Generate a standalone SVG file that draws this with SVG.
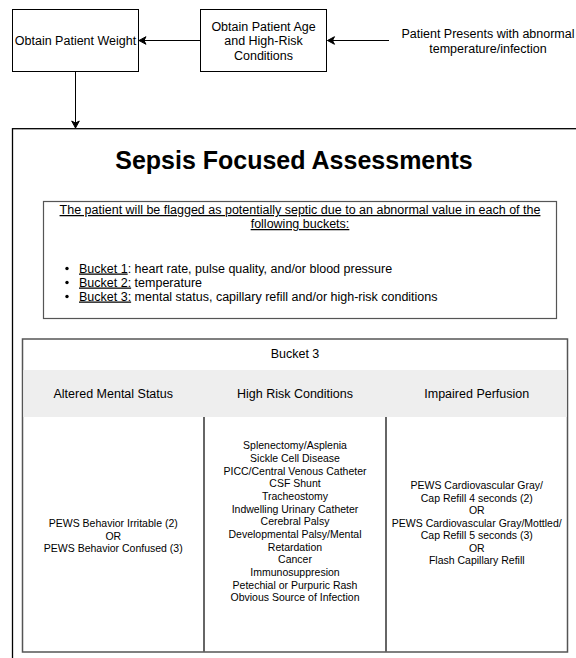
<svg xmlns="http://www.w3.org/2000/svg" width="576" height="658" viewBox="0 0 576 658">
<defs>
<style>
text{font-family:"Liberation Sans",Arial,sans-serif;fill:#000;}
.t12{font-size:12.5px;}
.t105{font-size:10.5px;}
.c{text-anchor:middle;}
.box{fill:#fff;stroke:#000;stroke-width:1;}
.conn{fill:none;stroke:#000;stroke-width:1;}
.u{text-decoration:underline;}
</style>
<marker id="arr" markerUnits="userSpaceOnUse" markerWidth="10" markerHeight="10" refX="8" refY="5" orient="auto">
<path d="M1,1.2 L8,5 L1,8.8 L3,5 Z" fill="#000" stroke="#000" stroke-width="1"/>
</marker>
</defs>
<rect width="576" height="658" fill="#fff"/>

<g id="connectors">
<line class="conn" x1="389" y1="40.5" x2="327.5" y2="40.5" marker-end="url(#arr)"/>
<line class="conn" x1="200.5" y1="40.5" x2="139" y2="40.5" marker-end="url(#arr)"/>
<line class="conn" x1="75.5" y1="72" x2="75.5" y2="128" marker-end="url(#arr)"/>
</g>

<g id="patient-presents">
<text class="t12 c" x="488" y="37.5">Patient Presents with abnormal</text>
<text class="t12 c" x="488" y="52.5">temperature/infection</text>
</g>

<g id="obtain-age">
<rect class="box" x="200.5" y="9.5" width="126" height="62"/>
<text class="t12 c" x="263.5" y="30.5">Obtain Patient Age</text>
<text class="t12 c" x="263.5" y="45">and High-Risk</text>
<text class="t12 c" x="263.5" y="59.5">Conditions</text>
</g>

<g id="obtain-weight">
<rect class="box" x="12.5" y="9.5" width="126" height="62"/>
<text class="t12 c" x="75.5" y="45">Obtain Patient Weight</text>
</g>

<g id="sepsis-assessments">
<rect x="12.5" y="128.7" width="580" height="560" fill="#fff" stroke="#000" stroke-width="1.3"/>
<text x="294" y="168.5" class="c" style="font-size:25px;font-weight:bold;">Sepsis Focused Assessments</text>

<g id="criteria">
<rect x="43.5" y="201.5" width="513" height="117" fill="#fff" stroke="#555" stroke-width="1.2"/>
<text class="t12 c u" x="300" y="214">The patient will be flagged as potentially septic due to an abnormal value in each of the</text>
<text class="t12 c u" x="300" y="228">following buckets:</text>
<circle cx="67" cy="268.5" r="1.7" fill="#000"/>
<circle cx="67" cy="282.5" r="1.7" fill="#000"/>
<circle cx="67" cy="296.5" r="1.7" fill="#000"/>
<text class="t12" x="79" y="272.5"><tspan class="u">Bucket 1</tspan>: heart rate, pulse quality, and/or blood pressure</text>
<text class="t12" x="79" y="286.5"><tspan class="u">Bucket 2:</tspan> temperature</text>
<text class="t12" x="79" y="300.5"><tspan class="u">Bucket 3:</tspan> mental status, capillary refill and/or high-risk conditions</text>
</g>

<g id="bucket3-table">
<rect x="22.5" y="339" width="545" height="313" fill="#fff" stroke="#555" stroke-width="1.5"/>
<rect x="23.3" y="370" width="543.4" height="47" fill="#eeeeee"/>
<line x1="204" y1="417" x2="204" y2="651.5" stroke="#333" stroke-width="1.5"/>
<line x1="386" y1="417" x2="386" y2="651.5" stroke="#333" stroke-width="1.5"/>
<text class="t12 c" x="295" y="357.5">Bucket 3</text>
<text class="t12 c" x="113.25" y="397.5">Altered Mental Status</text>
<text class="t12 c" x="295" y="397.5">High Risk Conditions</text>
<text class="t12 c" x="476.75" y="397.5">Impaired Perfusion</text>

<text class="t105 c" x="113.25" y="527">PEWS Behavior Irritable (2)</text>
<text class="t105 c" x="113.25" y="539.5">OR</text>
<text class="t105 c" x="113.25" y="552">PEWS Behavior Confused (3)</text>

<g>
<text class="t105 c" x="295" y="449.3">Splenectomy/Asplenia</text>
<text class="t105 c" x="295" y="462">Sickle Cell Disease</text>
<text class="t105 c" x="295" y="474.6">PICC/Central Venous Catheter</text>
<text class="t105 c" x="295" y="487.3">CSF Shunt</text>
<text class="t105 c" x="295" y="500">Tracheostomy</text>
<text class="t105 c" x="295" y="512.6">Indwelling Urinary Catheter</text>
<text class="t105 c" x="295" y="525.3">Cerebral Palsy</text>
<text class="t105 c" x="295" y="538">Developmental Palsy/Mental</text>
<text class="t105 c" x="295" y="550.6">Retardation</text>
<text class="t105 c" x="295" y="563.3">Cancer</text>
<text class="t105 c" x="295" y="576">Immunosuppresion</text>
<text class="t105 c" x="295" y="588.6">Petechial or Purpuric Rash</text>
<text class="t105 c" x="295" y="601.3">Obvious Source of Infection</text>
</g>

<text class="t105 c" x="476.75" y="489.3">PEWS Cardiovascular Gray/</text>
<text class="t105 c" x="476.75" y="501.8">Cap Refill 4 seconds (2)</text>
<text class="t105 c" x="476.75" y="514.3">OR</text>
<text class="t105 c" x="476.75" y="526.8">PEWS Cardiovascular Gray/Mottled/</text>
<text class="t105 c" x="476.75" y="539.3">Cap Refill 5 seconds (3)</text>
<text class="t105 c" x="476.75" y="551.8">OR</text>
<text class="t105 c" x="476.75" y="564.3">Flash Capillary Refill</text>
</g>
</g>
</svg>
